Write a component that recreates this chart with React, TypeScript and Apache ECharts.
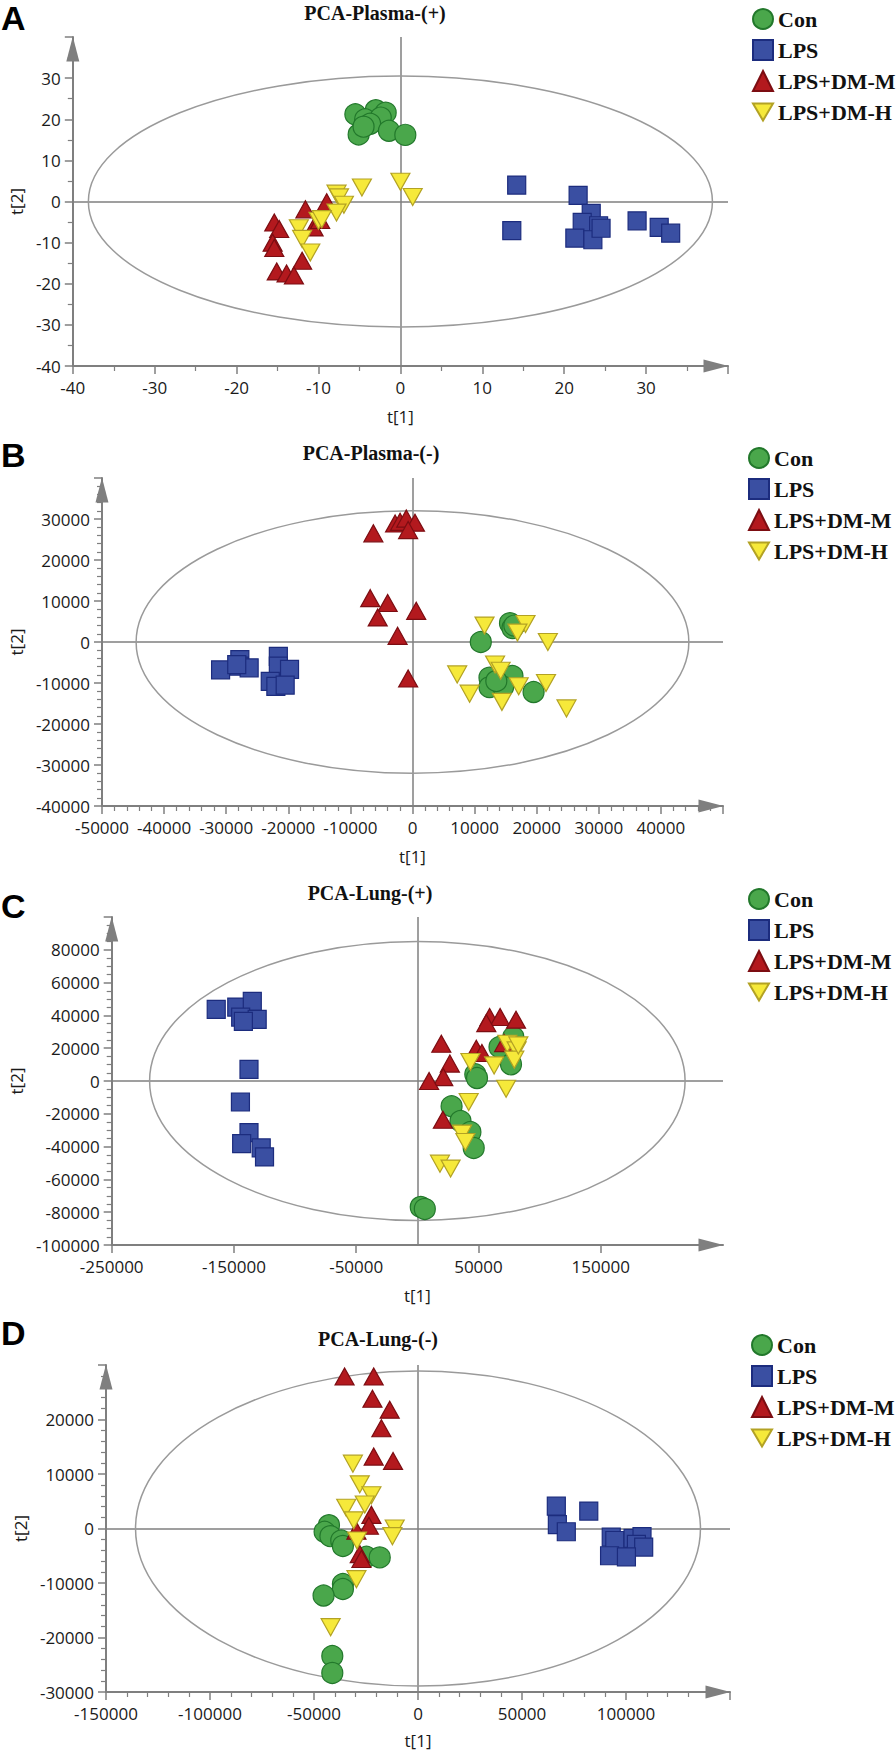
import React, { useEffect, useRef } from "react";
import * as echarts from "echarts";

const groups = ["Con", "LPS", "LPS+DM-M", "LPS+DM-H"];
const panelTitles = ["PCA-Plasma-(+)", "PCA-Plasma-(-)", "PCA-Lung-(+)", "PCA-Lung-(-)"];
const panelLetters = ["A", "B", "C", "D"];

// Panel A: PCA-Plasma-(+)
const aCon = [[-5.5, 21.2], [-3.0, 22.2], [-1.8, 21.6], [-4.3, 20.0], [-2.4, 20.4], [-3.7, 18.9], [-5.1, 16.3], [-1.4, 17.2], [0.6, 16.2], [-4.5, 18.2]];
const aLPS = [[14.2, 4.0], [13.6, -7.1], [21.7, 1.5], [23.3, -2.9], [22.2, -5.1], [24.2, -5.9], [21.3, -8.9], [23.5, -9.3], [28.9, -4.7], [31.6, -6.3], [33.0, -7.7], [24.5, -6.5]];
const aDMM = [[-15.4, -5.1], [-14.8, -6.7], [-11.6, -1.9], [-9.0, -0.2], [-10.6, -6.3], [-15.6, -10.0], [-15.4, -11.3], [-12.0, -14.4], [-15.1, -17.0], [-13.9, -17.5], [-13.0, -18.0], [-9.8, -4.5]];
const aDMH = [[-7.8, 1.9], [-7.5, 1.0], [-6.9, -0.8], [-7.8, -2.7], [-4.7, 3.4], [0.0, 4.8], [1.5, 1.1], [-12.4, -6.5], [-10.0, -4.7], [-9.6, -4.3], [-12.0, -9.1], [-11.0, -12.4]];

// Panel B: PCA-Plasma-(-)
const bCon = [[11000, 0], [15700, 4600], [16100, 3400], [12400, -8700], [16100, -8300], [12400, -11000], [14600, -10900], [19500, -12200], [16400, 4000], [13500, -9500]];
const bLPS = [[-30900, -6800], [-27800, -4300], [-27900, -5900], [-26300, -6300], [-21600, -3500], [-21600, -5900], [-19800, -6700], [-22900, -9600], [-22000, -10800], [-20500, -10500], [-28300, -5500]];
const bDMM = [[-6300, 26500], [-2800, 28900], [-2000, 29300], [-1000, 30100], [400, 29100], [-700, 27300], [-6800, 10700], [-4000, 9500], [-5600, 6000], [600, 7600], [-2400, 1500], [-700, -8900]];
const bDMH = [[11600, 4000], [18200, 4400], [16900, 2300], [21800, 0], [7200, -7900], [13300, -5500], [14200, -7000], [9200, -12600], [17100, -10800], [21500, -10000], [14400, -14600], [24800, -16200]];

// Panel C: PCA-Lung-(+)
const cCon = [[2800, -76800], [6100, -78000], [78500, 26800], [67200, 20700], [76600, 10200], [47400, 4100], [48800, 1800], [28000, -15400], [35300, -24400], [43400, -31100], [46100, -40800]];
const cLPS = [[-164500, 43700], [-147700, 45100], [-135000, 48500], [-144500, 39000], [-131000, 37600], [-142300, 36300], [-137700, 7100], [-144700, -12800], [-137700, -31500], [-143700, -38200], [-127700, -40800], [-125000, -46300]];
const cDMM = [[59100, 39000], [67700, 39000], [80700, 37400], [56400, 35300], [19600, 22700], [48200, 19700], [52800, 17100], [26600, 10600], [21200, 2400], [9600, 0], [71000, 23100], [20900, -23600]];
const cDMH = [[73600, 22700], [81200, 18700], [79300, 13000], [43400, 11600], [62800, 9500], [72600, -4700], [42000, -12800], [36600, -32100], [39300, -37200], [18500, -50400], [27200, -53400], [82600, 21700]];

// Panel D: PCA-Lung-(-)
const dCon = [[-42800, 600], [-44900, -600], [-42100, -1400], [-36900, -2200], [-36100, -3200], [-24800, -5200], [-18400, -5300], [-36100, -10200], [-36100, -11100], [-45400, -12300], [-41200, -23400], [-41200, -26500]];
const dLPS = [[66500, 4100], [82100, 3200], [67000, 700], [71300, -600], [92900, -1600], [94600, -2200], [103400, -1800], [107700, -1500], [105000, -2900], [108500, -3400], [92100, -5000], [100200, -5200]];
const dDMM = [[-35300, 27900], [-21300, 27900], [-21900, 23800], [-13600, 21800], [-17600, 18400], [-21300, 13200], [-12000, 12400], [-22400, 2500], [-23600, 500], [-29600, -400], [-28000, -4700], [-27200, -5600]];
const dDMH = [[-31300, 11900], [-28000, 8100], [-22400, 6100], [-34500, 3800], [-25600, 4400], [-30900, 1500], [-11200, 0], [-12300, -1400], [-29300, -2200], [-29600, -9300], [-42000, -18100]];

const panelData = [
  [aCon, aLPS, aDMM, aDMH],
  [bCon, bLPS, bDMM, bDMH],
  [cCon, cLPS, cDMM, cDMH],
  [dCon, dLPS, dDMM, dDMH],
];

// Axis scales
const xMin = [-40, -50000, -250000, -150000];
const xMax = [40, 50000, 250000, 150000];
const xInterval = [10, 10000, 100000, 50000];
const xMinorSplit = [2, 5, 0, 5];
const yMin = [-40, -40000, -100000, -30000];
const yMax = [40, 40000, 100000, 30000];
const yInterval = [10, 10000, 20000, 10000];
const yMinorSplit = [2, 5, 4, 5];

// Hotelling T2 ellipse semi-axes
const ellipseA = [38.1, 44500, 219000, 135800];
const ellipseB = [30.5, 32000, 85000, 28900];

// Layout
const grids = [
  { left: 72, top: 37, width: 656, height: 329 },
  { left: 98, top: 478, width: 625, height: 328 },
  { left: 108, top: 917, width: 615, height: 328 },
  { left: 106, top: 1365, width: 624, height: 327 },
];
const titlePos = [[375, 13], [371, 453], [370, 893], [378, 1339]];
const letterPos = [[1, 18], [1, 455], [1, 906], [1, 1333]];
const legendPos = [[747, 3], [743, 442], [743, 883], [746, 1329]];
const xNameGap = [42, 42, 42, 40];
const yNameGap = [41, 72, 82, 73];

const symbols = ["circle", "rect", "triangle", "path://M0,0L20,0L10,17Z"];
const symbolSizes: any[] = [21, 18, [19, 17], [19, 17]];
const fills = ["#4aa74b", "#3a4fa2", "#b3191e", "#f6e93a"];
const borders = ["#22782b", "#1c2c7e", "#7c0d12", "#b3a224"];

const AXIS_GRAY = "#7f7f7f";
const LABEL_FONT = "'Open Sans', 'Noto Sans', sans-serif";
const SERIF = "'Liberation Serif', 'Times New Roman', serif";

function buildOption() {
  const xAxis: any[] = [];
  const yAxis: any[] = [];
  const series: any[] = [];
  const legend: any[] = [];
  const graphic: any[] = [];

  for (let p = 0; p < 4; p++) {
    const axisCommon = {
      gridIndex: p,
      type: "value",
      splitLine: { show: false },
      axisLine: {
        show: true,
        onZero: false,
        symbol: ["none", "triangle"],
        symbolSize: [13, 25],
        symbolOffset: [0, -12],
        lineStyle: { color: AXIS_GRAY, width: 2 },
      },
      axisTick: { show: true, inside: false, length: 8, lineStyle: { color: AXIS_GRAY, width: 1.5 } },
      axisLabel: {
        showMaxLabel: false,
        showMinLabel: true,
        fontFamily: LABEL_FONT,
        fontSize: 17,
        color: "#1a1a1a",
        formatter: (v: number) => String(v),
      },
      nameLocation: "middle",
      nameTextStyle: { fontFamily: LABEL_FONT, fontSize: 17, color: "#1a1a1a" },
    };
    xAxis.push({
      ...axisCommon,
      min: xMin[p],
      max: xMax[p],
      interval: xInterval[p],
      name: "t[1]",
      nameGap: xNameGap[p],
      axisLabel: { ...axisCommon.axisLabel, margin: 13 },
      minorTick: {
        show: xMinorSplit[p] > 0,
        splitNumber: xMinorSplit[p] || 1,
        length: 5,
        lineStyle: { color: AXIS_GRAY, width: 1.2 },
      },
    });
    yAxis.push({
      ...axisCommon,
      min: yMin[p],
      max: yMax[p],
      interval: yInterval[p],
      name: "t[2]",
      nameGap: yNameGap[p],
      nameRotate: 90,
      axisLabel: { ...axisCommon.axisLabel, margin: 12 },
      minorTick: {
        show: yMinorSplit[p] > 0,
        splitNumber: yMinorSplit[p] || 1,
        length: 5,
        lineStyle: { color: AXIS_GRAY, width: 1.2 },
      },
    });

    const a = ellipseA[p];
    const b = ellipseB[p];
    series.push({
      type: "custom",
      name: "ellipse" + p,
      xAxisIndex: p,
      yAxisIndex: p,
      silent: true,
      clip: false,
      z: 1,
      data: [[0, 0]],
      renderItem: (params: any, api: any) => {
        const c = api.coord([0, 0]);
        const r = api.coord([a, 0]);
        const t = api.coord([0, b]);
        return {
          type: "ellipse",
          shape: { cx: c[0], cy: c[1], rx: r[0] - c[0], ry: c[1] - t[1] },
          style: { fill: "none", stroke: "#9a9a9a", lineWidth: 1.5 },
        };
      },
    });
    series.push({
      type: "scatter",
      name: "ref" + p,
      xAxisIndex: p,
      yAxisIndex: p,
      data: [],
      silent: true,
      z: 1,
      markLine: {
        silent: true,
        symbol: ["none", "none"],
        z: 1,
        label: { show: false },
        lineStyle: { color: AXIS_GRAY, width: 1.5, type: "solid" },
        data: [{ xAxis: 0 }, { yAxis: 0 }],
      },
    });

    for (let g = 0; g < 4; g++) {
      series.push({
        type: "scatter",
        name: groups[g],
        xAxisIndex: p,
        yAxisIndex: p,
        symbol: symbols[g],
        symbolSize: symbolSizes[g],
        z: 3 + g,
        itemStyle: { color: fills[g], borderColor: borders[g], borderWidth: 1.2, opacity: 1 },
        data: panelData[p][g],
      });
    }

    legend.push({
      orient: "vertical",
      left: legendPos[p][0],
      top: legendPos[p][1],
      itemWidth: 20,
      itemHeight: 20,
      itemGap: 9,
      selectedMode: false,
      data: groups,
      textStyle: { fontFamily: SERIF, fontWeight: "bold", fontSize: 22, color: "#111", lineHeight: 22 },
    });

    graphic.push({
      type: "text",
      x: titlePos[p][0],
      y: titlePos[p][1],
      style: {
        text: panelTitles[p],
        font: `bold 20px ${SERIF}`,
        fill: "#111",
        textAlign: "center",
        textVerticalAlign: "middle",
        verticalAlign: "middle",
      },
    });
    graphic.push({
      type: "text",
      x: letterPos[p][0],
      y: letterPos[p][1],
      style: {
        text: panelLetters[p],
        font: `bold 34px 'Liberation Sans', Arial, sans-serif`,
        fill: "#000",
        textAlign: "left",
        textVerticalAlign: "middle",
        verticalAlign: "middle",
      },
    });
  }

  return {
    animation: false,
    backgroundColor: "#ffffff",
    grid: grids.map((g) => ({ ...g, containLabel: false })),
    xAxis,
    yAxis,
    legend,
    graphic,
    series,
  };
}

export default function App() {
  const ref = useRef<HTMLDivElement>(null);
  useEffect(() => {
    document.body.style.margin = "0";
    if (!ref.current) return;
    const chart = echarts.init(ref.current, undefined, { renderer: "svg" });
    chart.setOption(buildOption() as any);
    return () => chart.dispose();
  }, []);
  return (
    <div
      ref={ref}
      style={{ position: "absolute", left: 0, top: 0, width: 896, height: 1752, background: "#fff" }}
    />
  );
}
